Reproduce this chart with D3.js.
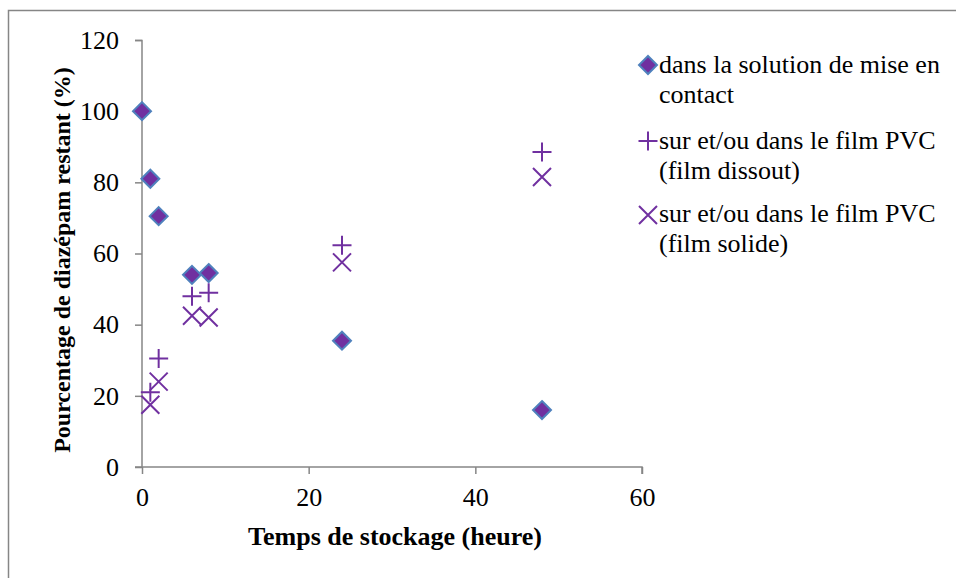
<!DOCTYPE html>
<html>
<head>
<meta charset="utf-8">
<script src="https://cdn.jsdelivr.net/npm/d3@7"></script>
<style>
  body { margin: 0; background: #fff; }
  text { font-family: "Liberation Serif", "Times New Roman", serif; fill: #000; }
</style>
</head>
<body>
<div id="container"></div>
<script>
// data
var hours = [0, 1, 2, 6, 8, 24, 48];
var solution = [100, 81, 70.5, 54, 54.5, 35.5, 16];
var hoursFilm = [1, 2, 6, 8, 24, 48];
var filmDissout = [21, 30.5, 48, 49, 62.3, 88.5];
var filmSolide = [17.5, 24, 42.5, 42, 57.5, 81.5];

var xTicks = [0, 20, 40, 60];
var yTicks = [0, 20, 40, 60, 80, 100, 120];

var seriesNames = [
  ["dans la solution de mise en", "contact"],
  ["sur et/ou dans le film PVC", "(film dissout)"],
  ["sur et/ou dans le film PVC", "(film solide)"]
];

// width and height
var width = 956;
var height = 578;
var purple = "#7030a0";
var axisColor = "#868686";

var svg = d3.select("#container")
  .append("svg")
  .attr("width", width)
  .attr("height", height);

// chart border
svg.append("rect")
  .attr("x", 8.5).attr("y", 10.5)
  .attr("width", 960).attr("height", 600)
  .attr("fill", "none")
  .attr("stroke", axisColor)
  .attr("stroke-width", 1.5);

// scales
var x = d3.scaleLinear().domain([0, 60]).range([142, 642]);
var y = d3.scaleLinear().domain([0, 120]).range([467, 40]);

// y axis
var yAxis = svg.append("g")
  .attr("transform", "translate(142,0)")
  .call(d3.axisLeft(y).tickValues(yTicks).tickSize(7).tickPadding(16));
yAxis.selectAll("line, path").attr("stroke", axisColor).attr("stroke-width", 1.5);
yAxis.select(".domain").attr("d", "M-7,40.5H0V467");
yAxis.selectAll("text")
  .style("font-family", "Liberation Serif")
  .style("font-size", "26px");

// x axis
var xAxis = svg.append("g")
  .attr("transform", "translate(0,467)")
  .call(d3.axisBottom(x).tickValues(xTicks).tickSize(7).tickPadding(14));
xAxis.selectAll("line, path").attr("stroke", axisColor).attr("stroke-width", 1.5);
xAxis.select(".domain").attr("d", "M135,0H642V7");
xAxis.selectAll("text")
  .style("font-family", "Liberation Serif")
  .style("font-size", "26px");

// axis titles
svg.append("text")
  .attr("transform", "translate(70,260) rotate(-90)")
  .style("text-anchor", "middle")
  .style("font-size", "24px")
  .style("font-weight", "bold")
  .text("Pourcentage de diazépam restant (%)");

svg.append("text")
  .attr("x", 395)
  .attr("y", 545)
  .style("text-anchor", "middle")
  .style("font-size", "26px")
  .style("font-weight", "bold")
  .text("Temps de stockage (heure)");

// marker shapes
var diamond = "M0,-9L9,0L0,9L-9,0Z";
var plus = "M-9.5,0H9.5M0,-9.5V9.5";
var cross = "M-9,-9L9,9M-9,9L9,-9";

function drawDiamond(g) {
  g.append("path").attr("d", diamond)
    .attr("fill", purple)
    .attr("stroke", "#4f81bd")
    .attr("stroke-width", 2);
}
function drawLine(shape) {
  return function(g) {
    g.append("path").attr("d", shape)
      .attr("fill", "none")
      .attr("stroke", purple)
      .attr("stroke-width", 2);
  };
}

var series = [
  { xs: hours, ys: solution, draw: drawDiamond },
  { xs: hoursFilm, ys: filmDissout, draw: drawLine(plus) },
  { xs: hoursFilm, ys: filmSolide, draw: drawLine(cross) }
];

series.forEach(function(s) {
  s.xs.forEach(function(h, i) {
    var g = svg.append("g")
      .attr("transform", "translate(" + x(h) + "," + y(s.ys[i]) + ")");
    s.draw(g);
  });
});

// legend
var legendY = [65, 141, 215];
var baseOffset = [8, 8, 7];
series.forEach(function(s, i) {
  var g = svg.append("g").attr("transform", "translate(648," + legendY[i] + ")");
  s.draw(g);
  seriesNames[i].forEach(function(line, j) {
    svg.append("text")
      .attr("x", 659)
      .attr("y", legendY[i] + baseOffset[i] + j * 30)
      .style("font-size", "26px")
      .text(line);
  });
});
</script>
</body>
</html>
